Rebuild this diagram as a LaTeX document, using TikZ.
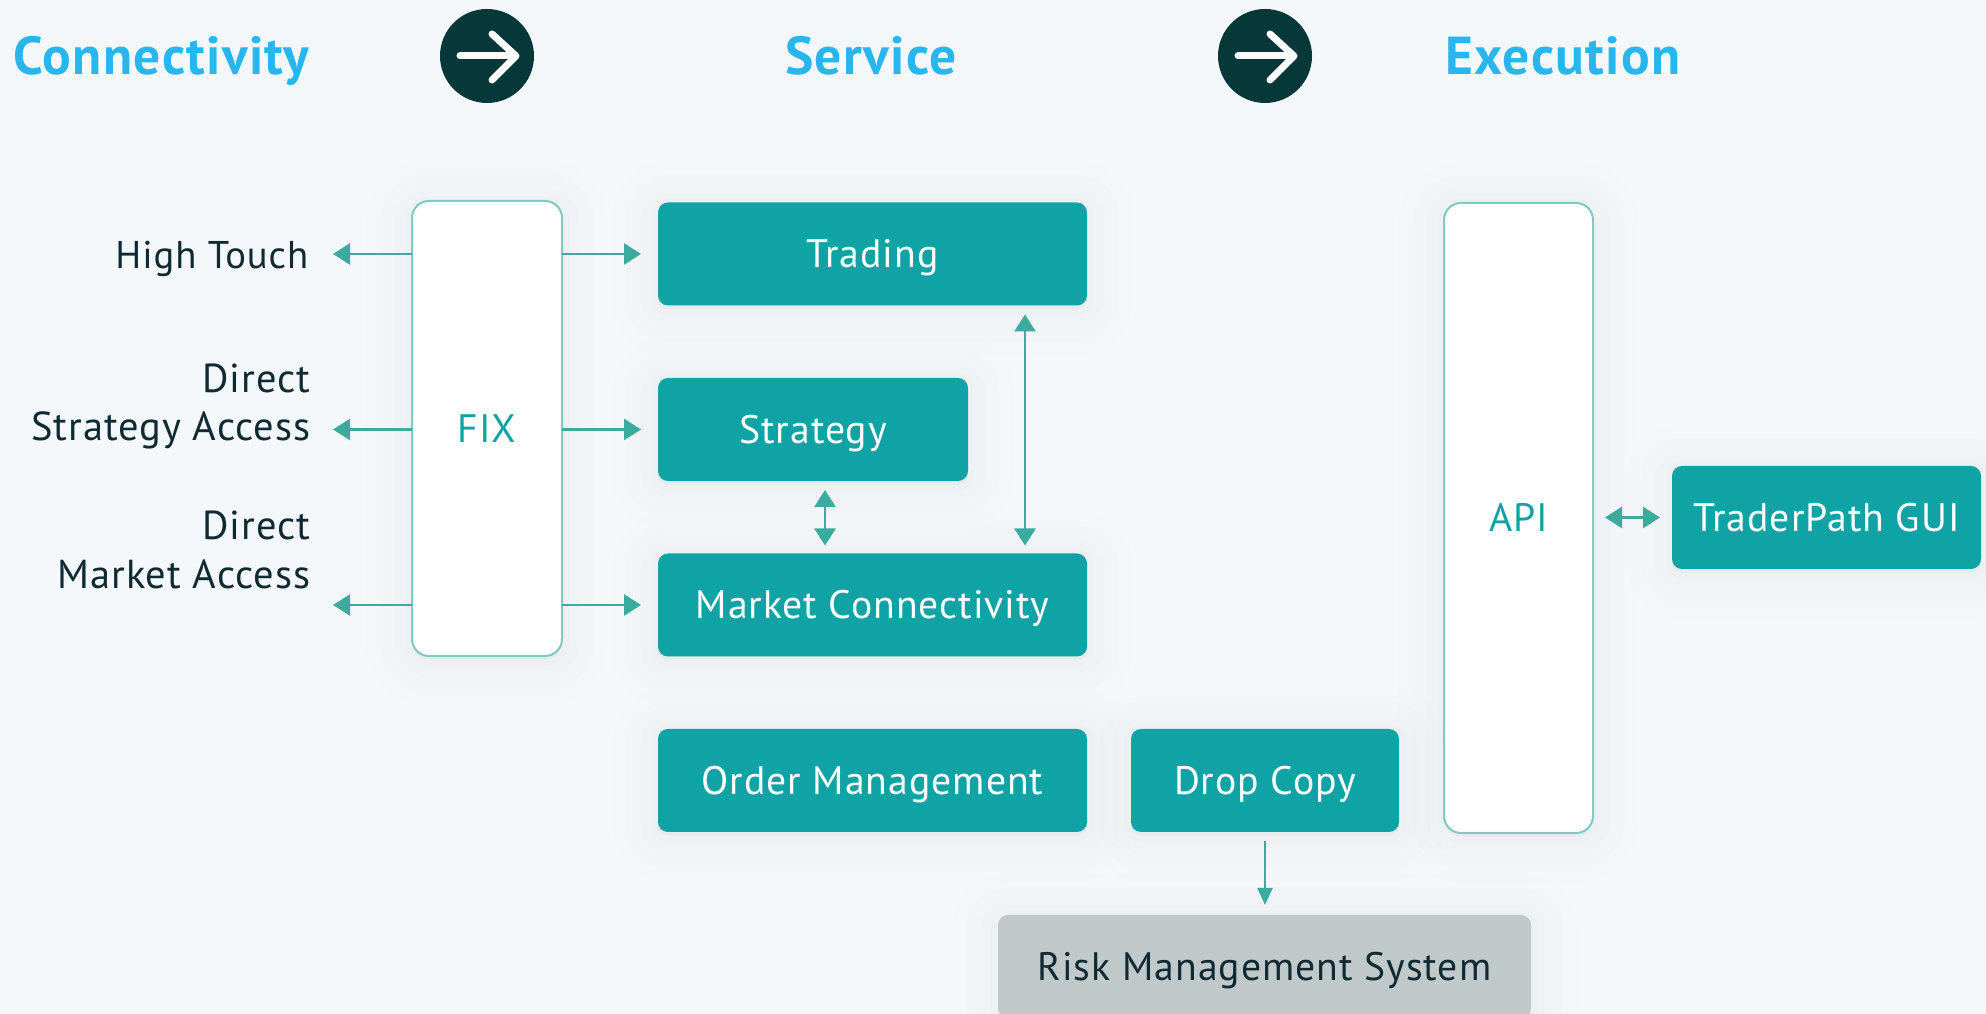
\documentclass[tikz,border=0pt]{standalone}
\usepackage{fontspec}
\setmainfont{PT Sans}[LetterSpace=2.5]
\usetikzlibrary{arrows.meta,shadows}

\definecolor{pagebg}{HTML}{F4F8FB}
\definecolor{tealbox}{HTML}{10A3A5}
\definecolor{tealline}{HTML}{3BAB9E}
\definecolor{tealedge}{HTML}{7FCAC3}
\definecolor{darkcircle}{HTML}{06383A}
\definecolor{greybox}{HTML}{C0C8CA}
\definecolor{headblue}{HTML}{29B6EE}
\definecolor{darktext}{HTML}{0F2A33}

\tikzset{
  softshadow/.style={
    general shadow={fill=black,draw=black,line width=26pt,opacity=.005,shadow yshift=-.04cm},
    general shadow={fill=black,draw=black,line width=18pt,opacity=.006,shadow yshift=-.04cm},
    general shadow={fill=black,draw=black,line width=10pt,opacity=.007,shadow yshift=-.04cm},
    general shadow={fill=black,draw=black,line width=4pt,opacity=.009,shadow yshift=-.03cm}},
  basebox/.style={rectangle,rounded corners=.1cm,inner sep=0pt,outer sep=0pt,minimum height=1.03cm,text height=.278cm,text depth=0pt,softshadow,font=\fontsize{11.3}{14}\selectfont},
  servicebox/.style={basebox,fill=tealbox,text=white},
  gatewaybox/.style={basebox,fill=white,draw=tealedge,line width=.02cm,rounded corners=.17cm,text=tealbox},
  riskbox/.style={basebox,fill=greybox,text=darktext},
  sidelabel/.style={anchor=east,align=right,inner sep=0pt,text=darktext,font=\fontsize{11.5}{13.9}\selectfont},
  headlabel/.style={inner sep=0pt,text height=.38cm,text depth=0pt,text=headblue,font=\fontsize{15.2}{17}\selectfont\bfseries},
  link/.style={draw=tealline,line width=.025cm,>={Triangle[length=.17cm,width=.21cm]}}
}

\begin{document}
\begin{tikzpicture}
\useasboundingbox (0,0) rectangle (19.86,10.14);
\clip (0,0) rectangle (19.86,10.14);
\fill[pagebg] (0,0) rectangle (19.86,10.14);

\node[headlabel,anchor=west] (connectivity) at (.13,9.58) {Connectivity};
\node[headlabel] (service) at (8.71,9.58) {Service};
\node[headlabel] (execution) at (15.63,9.58) {Execution};

\foreach \cx/\cname in {4.87/firstflow,12.65/secondflow}{
  \node[circle,fill=darkcircle,minimum size=.94cm,inner sep=0pt] (\cname) at (\cx,9.58) {};
  \draw[white,line width=.07cm,line cap=round,line join=round] (\cx-.27,9.58) -- (\cx+.27,9.58);
  \draw[white,line width=.07cm,line cap=round,line join=round] (\cx+.05,9.8) -- (\cx+.29,9.58) -- (\cx+.05,9.34);
}

\node[gatewaybox,minimum width=1.5cm,minimum height=4.55cm] (fix) at (4.87,5.855) {FIX};
\node[gatewaybox,minimum width=1.49cm,minimum height=6.3cm] (api) at (15.185,4.96) {API};

\node[servicebox,minimum width=4.29cm] (trading) at (8.725,7.6) {Trading};
\node[servicebox,minimum width=3.1cm] (strategy) at (8.13,5.845) {Strategy};
\node[servicebox,minimum width=4.29cm] (market) at (8.725,4.09) {Market Connectivity};
\node[servicebox,minimum width=4.29cm] (order) at (8.725,2.335) {Order Management};
\node[servicebox,minimum width=2.68cm] (dropcopy) at (12.65,2.335) {Drop Copy};
\node[servicebox,minimum width=3.09cm] (traderpath) at (18.265,4.965) {TraderPath GUI};
\node[riskbox,minimum width=5.33cm] (risk) at (12.645,.475) {Risk Management System};

\node[sidelabel,font=\fontsize{11}{13.9}\selectfont] (hightouch) at (3.09,7.55) {High Touch};
\node[sidelabel] (dsa) at (3.11,6.075) {Direct\\Strategy Access};
\node[sidelabel] (dma) at (3.11,4.64) {Direct\\Market Access};

\coordinate (hightip) at (3.33,7.6);
\coordinate (dsatip) at (3.33,5.845);
\coordinate (dmatip) at (3.33,4.09);

\draw[link,->] (fix.west |- hightip) -- (hightip);
\draw[link,->] (fix.west |- dsatip) -- (dsatip);
\draw[link,->] (fix.west |- dmatip) -- (dmatip);

\draw[link,->,shorten >=.17cm] (fix.east |- trading) -- (trading.west);
\draw[link,->,shorten >=.17cm] (fix.east |- strategy) -- (strategy.west);
\draw[link,->,shorten >=.17cm] (fix.east |- market) -- (market.west);

\draw[link,<->,shorten <=.09cm,shorten >=.08cm] (8.25,0 |- strategy.south) -- (8.25,0 |- market.north);
\draw[link,<->,shorten <=.09cm,shorten >=.08cm] (10.25,0 |- trading.south) -- (10.25,0 |- market.north);

\draw[link,<->,shorten <=.12cm,shorten >=.12cm] (api.east |- traderpath) -- (traderpath.west);

\draw[link,-{Triangle[length=.17cm,width=.15cm]},line width=.02cm,shorten <=.09cm,shorten >=.1cm] (dropcopy.south) -- (dropcopy.south |- risk.north);

\end{tikzpicture}
\end{document}
